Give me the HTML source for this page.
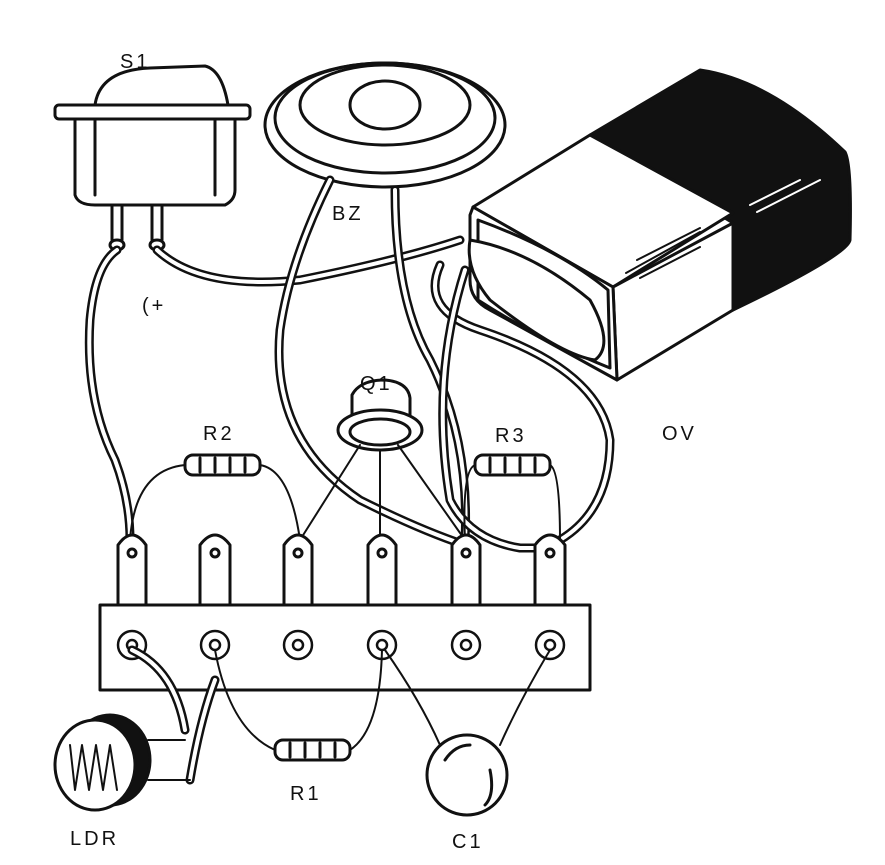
<!DOCTYPE html>
<html><head><meta charset="utf-8"><style>
html,body{margin:0;padding:0;background:#fff;}
svg{display:block;}
text{font-family:"Liberation Sans",sans-serif;font-size:20px;fill:#111;letter-spacing:3px;}
</style></head><body>
<svg width="885" height="865" viewBox="0 0 885 865" xmlns="http://www.w3.org/2000/svg">
<g fill="none" stroke="#111" stroke-width="3" stroke-linecap="round" stroke-linejoin="round">
<!-- S1 switch -->
<path d="M95 105 Q100 70 150 68 L205 66 Q222 70 228 105"/>
<rect x="55" y="105" width="195" height="14" rx="4" fill="#fff"/>
<path d="M75 119 L75 195 Q78 205 95 205 L225 205 Q235 200 235 190 L235 119"/>
<path d="M95 119 L95 195 M215 119 L215 195"/>
<path d="M112 205 L112 240 M122 205 L122 240 M152 205 L152 240 M162 205 L162 240"/>
<ellipse cx="117" cy="245" rx="7" ry="5"/><ellipse cx="157" cy="245" rx="7" ry="5"/>
<!-- Buzzer -->
<ellipse cx="385" cy="125" rx="120" ry="62" fill="#fff"/>
<ellipse cx="385" cy="118" rx="110" ry="55"/>
<ellipse cx="385" cy="105" rx="85" ry="40"/>
<ellipse cx="385" cy="105" rx="35" ry="24"/>
<!-- Battery -->
<path d="M590 135 L700 70 Q770 80 845 152 Q852 165 850 240 Q848 255 733 310 L733 223 Z" fill="#111"/>
<path d="M473 207 L590 135 L733 213 L613 287 Z" fill="#fff"/>
<path d="M613 287 L733 223 L733 310 L617 380 Z" fill="#fff"/>
<path d="M473 207 L613 287 L617 380 L490 310 Q470 300 470 280 L470 215 Z" fill="#fff"/>
<path d="M478 220 Q560 250 608 290 L610 368 Q540 340 478 300 Z"/>
<path d="M470 240 Q530 250 590 300 Q615 345 595 360 Q560 355 490 300 Q465 270 470 240 Z" fill="#fff"/>
<path d="M637 260 L700 228 M626 273 L700 232 M640 278 L700 247" stroke-width="2"/>
<path d="M750 205 L800 180 M757 212 L820 180" stroke="#fff" stroke-width="2"/>
<!-- wires top -->
<path d="M117 250 Q95 265 90 320 Q85 400 115 460 Q130 500 130 540" stroke-width="9"/>
<path d="M117 250 Q95 265 90 320 Q85 400 115 460 Q130 500 130 540" stroke="#fff" stroke-width="4"/>
<path d="M157 250 Q200 290 300 280 Q400 260 460 240" stroke-width="9"/>
<path d="M157 250 Q200 290 300 280 Q400 260 460 240" stroke="#fff" stroke-width="4"/>
<path d="M330 180 Q290 260 280 330 Q270 440 360 500 Q420 530 465 545" stroke-width="9"/>
<path d="M330 180 Q290 260 280 330 Q270 440 360 500 Q420 530 465 545" stroke="#fff" stroke-width="4"/>
<path d="M395 190 Q395 300 430 360 Q470 440 465 540" stroke-width="9"/>
<path d="M395 190 Q395 300 430 360 Q470 440 465 540" stroke="#fff" stroke-width="4"/>
<path d="M440 265 Q420 310 480 330 Q600 370 610 440 Q610 510 560 540" stroke-width="9"/>
<path d="M440 265 Q420 310 480 330 Q600 370 610 440 Q610 510 560 540" stroke="#fff" stroke-width="4"/>
<path d="M465 270 Q430 380 450 500 Q470 540 520 548 L550 548" stroke-width="9"/>
<path d="M465 270 Q430 380 450 500 Q470 540 520 548 L550 548" stroke="#fff" stroke-width="4"/>
<!-- Q1 -->
<path d="M352 395 Q360 380 385 380 Q408 382 410 398 L410 420 L352 420 Z" fill="#fff"/>
<ellipse cx="380" cy="430" rx="42" ry="20" fill="#fff"/>
<ellipse cx="380" cy="432" rx="30" ry="13"/>
<path d="M360 445 L300 540 M380 450 L380 540 M398 445 L465 540" stroke-width="2"/>
<!-- R2, R3 -->
<path d="M130 540 Q135 470 185 465 M260 465 Q290 470 300 540" stroke-width="2"/>
<rect x="185" y="455" width="75" height="20" rx="8" fill="#fff"/>
<path d="M200 458 L200 472 M215 458 L215 472 M230 458 L230 472 M245 458 L245 472"/>
<path d="M475 465 Q462 470 465 540 M550 465 Q560 470 560 540" stroke-width="2"/>
<rect x="475" y="455" width="75" height="20" rx="8" fill="#fff"/>
<path d="M490 458 L490 472 M505 458 L505 472 M520 458 L520 472 M535 458 L535 472"/>
<!-- lugs -->
<g fill="#fff">
<path d="M118 605 L118 545 Q132 525 146 545 L146 605"/>
<path d="M200 605 L200 545 Q215 525 230 545 L230 605"/>
<path d="M284 605 L284 545 Q298 525 312 545 L312 605"/>
<path d="M368 605 L368 545 Q382 525 396 545 L396 605"/>
<path d="M452 605 L452 545 Q466 525 480 545 L480 605"/>
<path d="M535 605 L535 545 Q550 525 565 545 L565 605"/>
</g>
<circle cx="132" cy="553" r="4"/><circle cx="215" cy="553" r="4"/><circle cx="298" cy="553" r="4"/><circle cx="382" cy="553" r="4"/><circle cx="466" cy="553" r="4"/><circle cx="550" cy="553" r="4"/>
<!-- terminal strip -->
<rect x="100" y="605" width="490" height="85" fill="#fff"/>
<g stroke-width="2.5">
<circle cx="132" cy="645" r="14"/><circle cx="215" cy="645" r="14"/><circle cx="298" cy="645" r="14"/><circle cx="382" cy="645" r="14"/><circle cx="466" cy="645" r="14"/><circle cx="550" cy="645" r="14"/>
<circle cx="132" cy="645" r="5"/><circle cx="215" cy="645" r="5"/><circle cx="298" cy="645" r="5"/><circle cx="382" cy="645" r="5"/><circle cx="466" cy="645" r="5"/><circle cx="550" cy="645" r="5"/>
</g>
<!-- R1 -->
<path d="M215 650 Q230 730 275 750 M350 750 Q380 730 382 650" stroke-width="2"/>
<rect x="275" y="740" width="75" height="20" rx="8" fill="#fff"/>
<path d="M290 743 L290 757 M305 743 L305 757 M320 743 L320 757 M335 743 L335 757"/>
<!-- C1 -->
<path d="M385 650 Q420 700 440 745 M550 650 Q520 700 500 745" stroke-width="2"/>
<circle cx="467" cy="775" r="40" fill="#fff"/>
<path d="M445 760 Q455 745 470 745 M490 770 Q495 795 485 805"/>
<!-- LDR -->
<path d="M132 650 Q175 670 185 730 M215 680 Q200 720 190 780" stroke-width="9"/>
<path d="M132 650 Q175 670 185 730 M215 680 Q200 720 190 780" stroke="#fff" stroke-width="4"/>
<ellipse cx="110" cy="760" rx="40" ry="45" fill="#111"/>
<ellipse cx="95" cy="765" rx="40" ry="45" fill="#fff"/>
<path d="M70 745 L75 790 L82 745 L89 790 L96 745 L103 790 L110 745 L117 790" stroke-width="2"/>
<path d="M148 740 L185 740 M148 780 L190 780" stroke-width="2"/>
</g>
<text x="120" y="68">S1</text>
<text x="332" y="220">BZ</text>
<text x="142" y="312" font-size="16">(+</text>
<text x="360" y="390">Q1</text>
<text x="203" y="440">R2</text>
<text x="495" y="442">R3</text>
<text x="662" y="440">OV</text>
<text x="290" y="800">R1</text>
<text x="70" y="845">LDR</text>
<text x="452" y="848">C1</text>
</svg>
</body></html>
